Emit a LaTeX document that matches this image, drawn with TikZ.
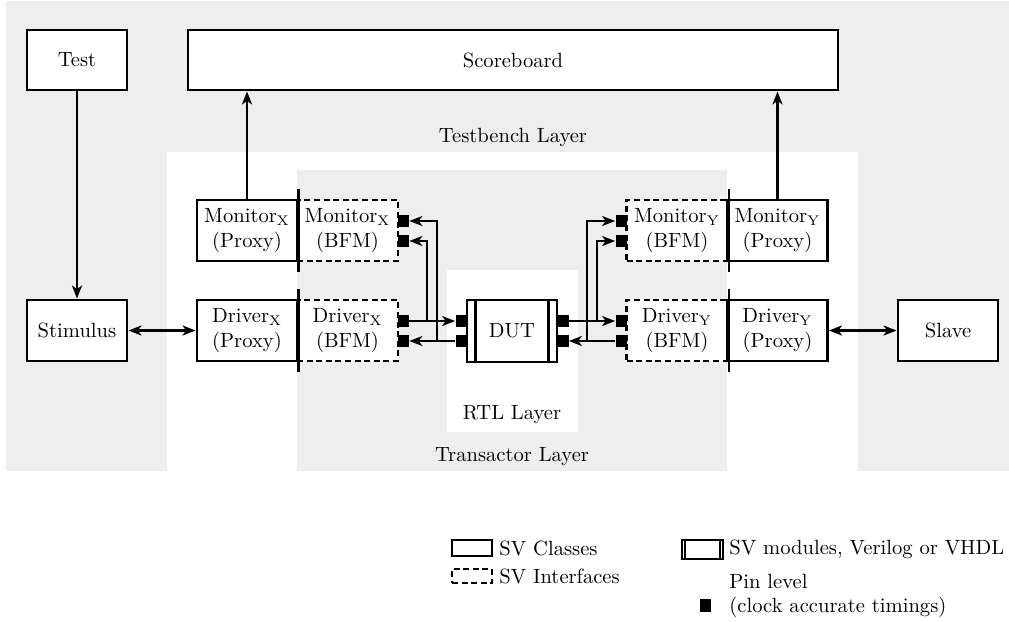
\documentclass[tikz,border=0pt]{standalone}
\usetikzlibrary{arrows.meta}
\definecolor{layergray}{RGB}{238,238,238}
\begin{document}
\begin{tikzpicture}[
  x=0.5pt, y=-0.5pt,
  font=\fontsize{10.3}{12.4}\selectfont,
  box/.style={draw, line width=1.45pt, fill=white, align=center, inner sep=0pt},
  bfm/.style={box, dash pattern=on 3pt off 1.8pt},
  cls/.style={box, minimum width=50pt, minimum height=30.5pt},
  itf/.style={bfm, minimum width=50.5pt, minimum height=30.5pt},
  pinsq/.style={fill=black, minimum width=5.5pt, minimum height=6pt, inner sep=0pt},
  tip/.tip={Stealth[length=6.5pt, width=5pt, inset=1.8pt]},
  arr/.style={line width=1.15pt, -tip},
  dblarr/.style={line width=1.15pt, tip-tip},
  divider/.style={line width=1.45pt},
  lbl/.style={inner sep=0pt}
]
\useasboundingbox (0,0) rectangle (1009,622);

% layers
\fill[layergray] (6,1) rectangle (1009,471);
\fill[white] (167,152) rectangle (858,471);
\fill[layergray] (297,170) rectangle (727,471);
\fill[white] (447,270) rectangle (578,432);

\node[lbl] (tbl) at (513,137) {Testbench Layer};
\node[lbl] (rtl) at (512,415) {RTL Layer};
\node[lbl] (trl) at (512,457) {Transactor Layer};

% testbench components
\node[box, minimum width=50pt, minimum height=30pt] (test) at (77,60) {Test};
\node[box, minimum width=325pt, minimum height=30pt] (sb) at (513,60) {Scoreboard};
\node[cls] (stim) at (77,330.5) {Stimulus};
\node[cls] (slave) at (948,330.5) {Slave};

% X side
\node[cls] (mxp) at (247,230.5) {Monitor$_{\mathrm{X}}$\\(Proxy)};
\node[itf] (mxb) at (347.5,230.5) {Monitor$_{\mathrm{X}}$\\(BFM)};
\node[cls] (dxp) at (247,330.5) {Driver$_{\mathrm{X}}$\\(Proxy)};
\node[itf] (dxb) at (347.5,330.5) {Driver$_{\mathrm{X}}$\\(BFM)};

% Y side
\node[itf] (myb) at (677,230.5) {Monitor$_{\mathrm{Y}}$\\(BFM)};
\node[cls] (myp) at (777.5,230.5) {Monitor$_{\mathrm{Y}}$\\(Proxy)};
\node[itf] (dyb) at (677,330.5) {Driver$_{\mathrm{Y}}$\\(BFM)};
\node[cls] (dyp) at (777.5,330.5) {Driver$_{\mathrm{Y}}$\\(Proxy)};

% proxy / BFM dividers
\foreach \n in {mxp,dxp,myb,dyb}
  \draw[divider] ([yshift=5pt]\n.north east) -- ([yshift=-5pt]\n.south east);

% DUT
\node[box, minimum width=45pt, minimum height=31pt] (dut) at (512,331) {DUT};
\draw[line width=1.45pt] ([xshift=5pt]dut.north west) -- ([xshift=5pt]dut.south west);
\draw[line width=1.45pt] ([xshift=-5pt]dut.north east) -- ([xshift=-5pt]dut.south east);

% pins
\node[pinsq] (mxq1) at (403.5,221) {};
\node[pinsq] (mxq2) at (403.5,241) {};
\node[pinsq] (dxq1) at (403.5,321) {};
\node[pinsq] (dxq2) at (403.5,341) {};
\node[pinsq] (dl1) at (461,321) {};
\node[pinsq] (dl2) at (461,341) {};
\node[pinsq] (dr1) at (563,321) {};
\node[pinsq] (dr2) at (563,341) {};
\node[pinsq] (myq1) at (621,221) {};
\node[pinsq] (myq2) at (621,241) {};
\node[pinsq] (dyq1) at (621,321) {};
\node[pinsq] (dyq2) at (621,341) {};

% pin-level connections
\draw[arr] (dxq1) -- (dl1);
\draw[arr] (dl2) -- (dxq2);
\draw[arr] (dr1) -- (dyq1);
\draw[arr] (dyq2) -- (dr2);
\coordinate (tx1) at (437,341);
\coordinate (tx2) at (427,321);
\coordinate (ty1) at (587,341);
\coordinate (ty2) at (597,321);
\draw[arr] (tx1) |- (mxq1.east);
\draw[arr] (tx2) |- (mxq2.east);
\draw[arr] (ty1) |- (myq1.west);
\draw[arr] (ty2) |- (myq2.west);

% transaction-level connections
\draw[arr] (test) -- (stim);
\draw[arr] (mxp.north) -- (mxp.north |- sb.south);
\draw[arr] (myp.north) -- (myp.north |- sb.south);
\draw[dblarr] (stim) -- (dxp);
\draw[dblarr] (dyp) -- (slave);

% legend
\node[box, minimum width=20pt, minimum height=8pt] (lgc) at (472,548) {};
\node[lbl, anchor=west] (lgct) at (499,548) {SV Classes};
\node[bfm, minimum width=20pt, minimum height=7pt] (lgi) at (472,576) {};
\node[lbl, anchor=west] (lgit) at (499,576) {SV Interfaces};
\node[box, line width=1pt, minimum width=20.5pt, minimum height=9.5pt] (lgm) at (702.5,549.5) {};
\draw[line width=0.8pt] ([xshift=2pt]lgm.north west) -- ([xshift=2pt]lgm.south west);
\draw[line width=0.8pt] ([xshift=-2pt]lgm.north east) -- ([xshift=-2pt]lgm.south east);
\node[lbl, anchor=west] (lgmt) at (729,549) {SV modules, Verilog or VHDL};
\node[pinsq, minimum height=6.5pt] (lgp) at (705.5,605.5) {};
\node[lbl, anchor=west, align=left] (lgpt) at (729,596) {Pin level\\(clock accurate timings)};
\end{tikzpicture}
\end{document}
